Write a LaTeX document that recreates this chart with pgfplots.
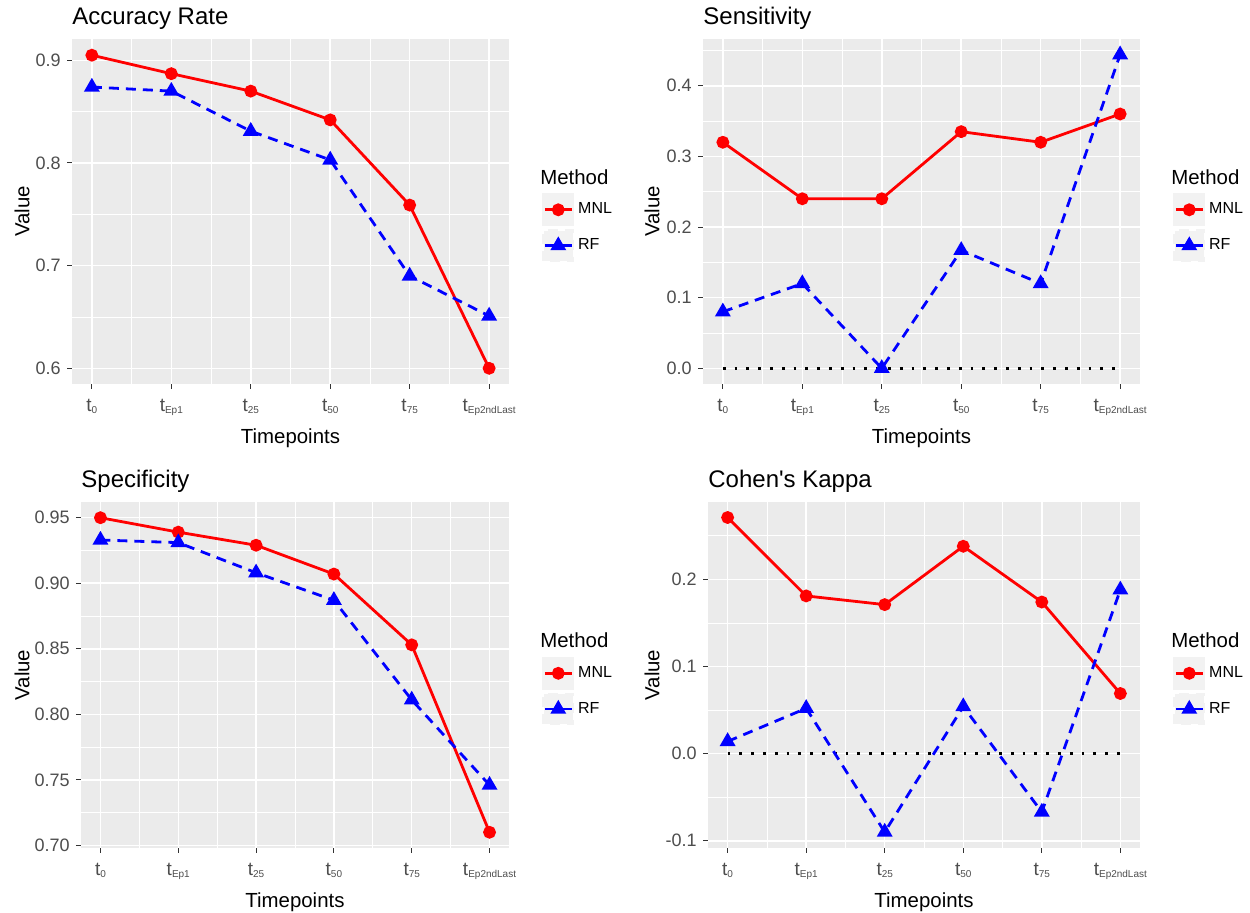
\documentclass[border=0pt]{standalone}
\usepackage{fontspec}
\setmainfont{Liberation Sans}[Ligatures=TeXOff]
\usepackage{pgfplots}
\pgfplotsset{compat=1.18}

\definecolor{ggbg}{HTML}{EBEBEB}
\definecolor{ggkey}{HTML}{F2F2F2}
\definecolor{ggtick}{HTML}{333333}
\definecolor{ggtext}{HTML}{4D4D4D}

% t with a small subscript, as in the R plot
\newcommand\tlab[1]{t\raisebox{-0.6pt}{\fontsize{5}{6}\selectfont #1}}

\pgfplotsset{
  gg/.style={
    scale only axis, width=218.5pt, height=172.5pt,
    axis background/.style={fill=ggbg},
    axis line style={draw=none},
    xmin=-0.25, xmax=5.25,
    xtick={0,1,2,3,4,5},
    xticklabels={\tlab{0},\tlab{Ep1},\tlab{25},\tlab{50},\tlab{75},\tlab{Ep2ndLast}},
    minor xtick={0.5,1.5,2.5,3.5,4.5},
    grid=both,
    major grid style={white, line width=0.75pt},
    minor grid style={white, line width=0.4pt},
    tick align=outside, xtick pos=bottom, ytick pos=left,
    major tick length=2.5pt, minor tick length=0pt,
    major tick style={ggtick, line width=0.5pt},
    tick label style={font=\fontsize{9}{10}\selectfont, text=ggtext},
    xticklabel style={font=\fontsize{9.5}{10}\selectfont, anchor=base, yshift=-11.5pt, inner sep=0pt},
    yticklabel style={anchor=east, inner sep=0pt, xshift=-3pt},
    title style={at={(axis description cs:0,1)}, anchor=base west, yshift=1pt, inner sep=0pt, font=\fontsize{12}{14}\selectfont},
    xlabel={Timepoints}, ylabel={Value},
    label style={font=\fontsize{10.2}{12}\selectfont},
    xlabel style={at={(axis description cs:0.5,0)}, anchor=base, yshift=-30pt, inner sep=0pt},
    ylabel style={at={(axis description cs:0,0.5)}, anchor=center, inner sep=0pt},
    legend style={draw=none, fill=none, at={(axis description cs:1,0.5)}, anchor=north west,
      xshift=16.5pt, yshift=9.25pt, inner sep=0pt, row sep=1.5pt, column sep=0pt,
      font=\fontsize{8}{9}\selectfont, cells={anchor=west}},
    legend image code/.code={
      \fill[ggkey] (0pt,-7.5pt) rectangle (14.5pt,7.5pt);
      \draw[mark repeat=2,mark phase=2] plot coordinates {(0.5pt,0pt) (7.25pt,0pt) (14pt,0pt)};
    },
    extra description/.code={
      \node[anchor=west, inner sep=0pt, font=\fontsize{10.2}{12}\selectfont] at (1,0.5) [xshift=15.5pt, yshift=17.25pt] {Method};
    },
  },
  mnl/.style={red, solid, line width=1.4pt, mark=*, mark size=2.5pt, mark options={solid}},
  rf/.style={blue, line width=1.4pt, dash pattern=on 5pt off 3.5pt, mark=triangle*, mark size=3.2pt, mark options={solid}},
  zero/.style={black, line width=1.4pt, dash pattern=on 1.4pt off 4.5pt, mark=none, forget plot},
}

\begin{document}
\begin{tikzpicture}
\path[use as bounding box] (0,0) rectangle (625pt,-456.5pt);

% Accuracy Rate
\begin{axis}[gg, at={(36pt,-192pt)}, anchor=south west,
  title={Accuracy Rate},
  ymin=0.5847, ymax=0.9208,
  ytick={0.6,0.7,0.8,0.9}, yticklabels={0.6,0.7,0.8,0.9},
  minor ytick={0.65,0.75,0.85},
  ylabel style={yshift=25pt}]
\addplot[mnl] coordinates {(0,0.905) (1,0.887) (2,0.870) (3,0.842) (4,0.759) (5,0.600)};
\addplot[rf] coordinates {(0,0.874) (1,0.870) (2,0.831) (3,0.803) (4,0.690) (5,0.651)};
\legend{MNL,RF}
\end{axis}

% Sensitivity
\begin{axis}[gg, at={(351.5pt,-192pt)}, anchor=south west,
  title={Sensitivity},
  ymin=-0.0222, ymax=0.4662,
  ytick={0,0.1,0.2,0.3,0.4}, yticklabels={0.0,0.1,0.2,0.3,0.4},
  minor ytick={0.05,0.15,0.25,0.35,0.45},
  ylabel style={yshift=25.5pt}]
\addplot[zero] coordinates {(0,0) (5,0)};
\addplot[mnl] coordinates {(0,0.320) (1,0.240) (2,0.240) (3,0.335) (4,0.320) (5,0.360)};
\addplot[rf] coordinates {(0,0.080) (1,0.120) (2,0.000) (3,0.167) (4,0.120) (5,0.444)};
\legend{MNL,RF}
\end{axis}

% Specificity
\begin{axis}[gg, at={(40.5pt,-424pt)}, anchor=south west, width=214pt, height=173pt,
  title={Specificity},
  ymin=0.698, ymax=0.962,
  ytick={0.70,0.75,0.80,0.85,0.90,0.95}, yticklabels={0.70,0.75,0.80,0.85,0.90,0.95},
  minor ytick={0.725,0.775,0.825,0.875,0.925},
  ylabel style={yshift=29.5pt}]
\addplot[mnl] coordinates {(0,0.950) (1,0.939) (2,0.929) (3,0.907) (4,0.853) (5,0.710)};
\addplot[rf] coordinates {(0,0.933) (1,0.931) (2,0.908) (3,0.887) (4,0.811) (5,0.746)};
\legend{MNL,RF}
\end{axis}

% Cohen's Kappa
\begin{axis}[gg, at={(354pt,-424pt)}, anchor=south west, width=216pt, height=173pt,
  title={Cohen's Kappa},
  ymin=-0.1083, ymax=0.2888,
  ytick={-0.1,0,0.1,0.2}, yticklabels={-0.1,0.0,0.1,0.2},
  minor ytick={-0.05,0.05,0.15,0.25},
  ylabel style={yshift=28pt}]
\addplot[zero] coordinates {(0,0) (5,0)};
\addplot[mnl] coordinates {(0,0.271) (1,0.181) (2,0.171) (3,0.238) (4,0.174) (5,0.069)};
\addplot[rf] coordinates {(0,0.014) (1,0.052) (2,-0.090) (3,0.054) (4,-0.067) (5,0.188)};
\legend{MNL,RF}
\end{axis}
\end{tikzpicture}
\end{document}
